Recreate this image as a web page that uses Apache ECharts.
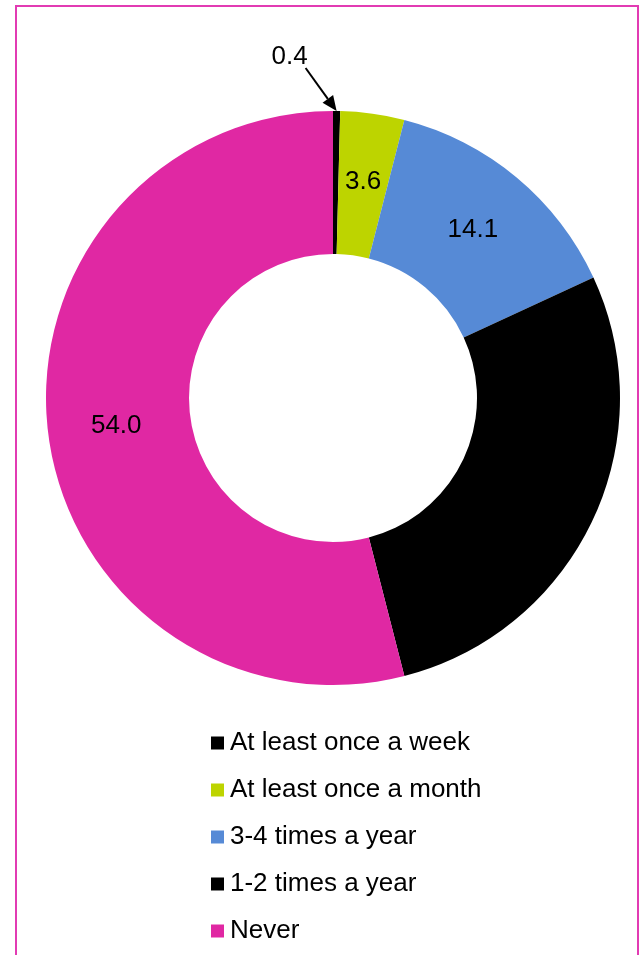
<!DOCTYPE html>
<html>
<head>
<meta charset="utf-8">
<script src="https://cdn.jsdelivr.net/npm/echarts@6/dist/echarts.min.js"></script>
<style>
html,body{margin:0;padding:0;background:#fff;}
#c{width:642px;height:955px;}
</style>
</head>
<body>
<div id="c"></div>
<script>
var categories = ["At least once a week", "At least once a month", "3-4 times a year", "1-2 times a year", "Never"];
var values = [0.4, 3.6, 14.1, 27.9, 54.0];
var colors = ["#000000", "#BDD400", "#568AD6", "#000000", "#E028A3"];

var CX = 333, CY = 398, R0 = 144, R1 = 287;
var FONT = "'Liberation Sans', Arial, sans-serif";

var total = values.reduce(function (a, b) { return a + b; }, 0);
var midA = Math.PI * values[0] / total; // mid angle of first slice, clockwise from top
var tip = [CX + R1 * Math.sin(midA), CY - R1 * Math.cos(midA)];
var start = [tip[0] - 31, tip[1] - 43];
var labelPos = [tip[0] - 47, tip[1] - 54];
var dx = tip[0] - start[0], dy = tip[1] - start[1];
var len = Math.sqrt(dx * dx + dy * dy);
var ux = dx / len, uy = dy / len, nx = -uy, ny = ux;
var headL = 15, headW = 6.5;
var base = [tip[0] - ux * headL, tip[1] - uy * headL];

var data = categories.map(function (name, i) {
  var item = { name: name, value: values[i], itemStyle: { color: colors[i] } };
  if (i === 3) item.label = { show: false };
  return item;
});

var chart = echarts.init(document.getElementById('c'), null, { renderer: 'canvas' });
chart.setOption({
  animation: false,
  backgroundColor: '#ffffff',
  legend: {
    orient: 'vertical',
    left: 211,
    top: 728,
    padding: 0,
    icon: 'rect',
    itemWidth: 13,
    itemHeight: 13,
    itemGap: 17,
    selectedMode: false,
    textStyle: { fontFamily: FONT, fontSize: 26, color: '#000', lineHeight: 30, padding: [0, 0, 0, 1] },
    data: categories
  },
  series: [{
    type: 'pie',
    center: [CX, CY],
    radius: [R0, R1],
    startAngle: 90,
    clockwise: true,
    avoidLabelOverlap: false,
    label: {
      show: true,
      position: 'inside',
      color: '#000',
      fontFamily: FONT,
      fontSize: 26,
      formatter: function (p) { return p.value.toFixed(1); }
    },
    labelLine: { show: false },
    labelLayout: function (params) {
      if (params.dataIndex === 0) {
        return { x: labelPos[0], y: labelPos[1], align: 'center', verticalAlign: 'middle' };
      }
      return {};
    },
    emphasis: { disabled: true },
    data: data
  }],
  graphic: [
    {
      type: 'rect',
      shape: { x: 16, y: 6, width: 622, height: 1000 },
      style: { fill: null, stroke: '#E23BB3', lineWidth: 2 },
      silent: true
    },
    {
      type: 'line',
      shape: { x1: start[0], y1: start[1], x2: base[0], y2: base[1] },
      style: { stroke: '#000', lineWidth: 2 },
      silent: true,
      z: 10
    },
    {
      type: 'polygon',
      shape: { points: [tip, [base[0] + nx * headW, base[1] + ny * headW], [base[0] - nx * headW, base[1] - ny * headW]] },
      style: { fill: '#000' },
      silent: true,
      z: 10
    }
  ]
});
</script>
</body>
</html>
